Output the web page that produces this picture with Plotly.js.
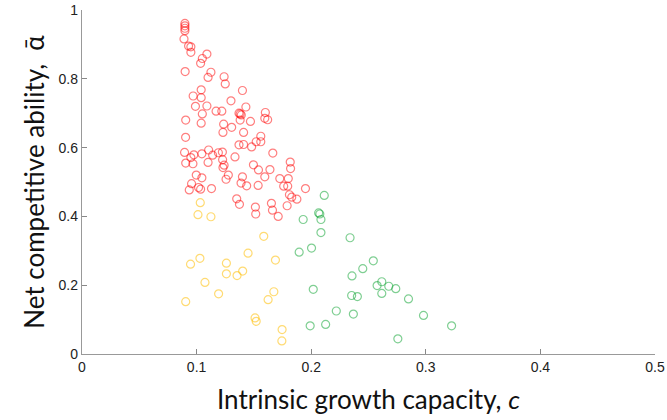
<!DOCTYPE html>
<html>
<head>
<meta charset="utf-8">
<script src="https://cdn.plot.ly/plotly-3.0.1.min.js"></script>
<style>html,body{margin:0;padding:0;background:#fff;}#chart{width:667px;height:420px;}</style>
</head>
<body>
<div id="chart"></div>
<script>
// Red group
const redX = [0.0898,0.0898,0.0898,0.0898,0.089,0.093,0.095,0.095,0.109,0.105,0.1035,0.090,0.1125,0.110,0.124,0.125,0.140,0.104,0.097,0.104,0.130,0.099,0.109,0.143,0.117,0.122,0.160,0.137,0.139,0.138,0.105,0.1595,0.162,0.0905,0.138,0.147,0.104,0.1236,0.1306,0.123,0.141,0.0904,0.156,0.152,0.156,0.137,0.141,0.148,0.1105,0.1225,0.119,0.0895,0.0976,0.1046,0.114,0.1665,0.1227,0.1335,0.095,0.0905,0.0968,0.110,0.124,0.123,0.1496,0.1817,0.154,0.182,0.164,0.0997,0.1046,0.1277,0.1257,0.140,0.1595,0.1388,0.1437,0.1537,0.1726,0.180,0.176,0.1795,0.195,0.0956,0.1017,0.1035,0.0936,0.113,0.135,0.181,0.183,0.1875,0.1374,0.1513,0.1516,0.1653,0.1662,0.1712,0.179];
const redY = [0.961,0.954,0.947,0.940,0.916,0.895,0.893,0.877,0.872,0.859,0.845,0.821,0.819,0.804,0.806,0.785,0.766,0.768,0.750,0.745,0.736,0.720,0.721,0.718,0.706,0.706,0.702,0.700,0.695,0.698,0.698,0.685,0.681,0.680,0.680,0.676,0.671,0.668,0.659,0.644,0.644,0.630,0.633,0.617,0.617,0.608,0.609,0.602,0.593,0.587,0.585,0.586,0.579,0.582,0.578,0.584,0.565,0.573,0.571,0.555,0.553,0.557,0.549,0.542,0.550,0.558,0.535,0.539,0.536,0.520,0.512,0.520,0.508,0.515,0.515,0.497,0.489,0.490,0.510,0.510,0.488,0.488,0.481,0.495,0.484,0.479,0.477,0.481,0.451,0.463,0.456,0.450,0.435,0.427,0.407,0.438,0.418,0.400,0.431];
// Yellow group
const yellowX = [0.1032,0.1012,0.1125,0.1586,0.1449,0.0947,0.1029,0.126,0.126,0.1688,0.1402,0.1353,0.1073,0.1192,0.1674,0.1624,0.0905,0.151,0.152,0.1746,0.1744];
const yellowY = [0.440,0.405,0.399,0.342,0.293,0.261,0.278,0.264,0.233,0.273,0.241,0.228,0.208,0.175,0.181,0.158,0.152,0.105,0.095,0.071,0.038];
// Green group
const greenX = [0.2114,0.2065,0.2075,0.193,0.2085,0.2085,0.1895,0.2003,0.2018,0.1991,0.2126,0.2219,0.2339,0.2542,0.245,0.2356,0.2616,0.2575,0.2677,0.2738,0.2616,0.2353,0.2403,0.2849,0.2368,0.298,0.3225,0.2756];
const greenY = [0.461,0.410,0.407,0.391,0.391,0.353,0.296,0.308,0.188,0.082,0.086,0.125,0.338,0.271,0.248,0.227,0.210,0.199,0.197,0.190,0.176,0.170,0.167,0.160,0.116,0.112,0.082,0.044];

const xTicks = [0, 0.1, 0.2, 0.3, 0.4, 0.5];
const yTicks = [0, 0.2, 0.4, 0.6, 0.8, 1];

function grp(x, y, color, name) {
  return {x: x, y: y, name: name, type: 'scatter', mode: 'markers',
    marker: {symbol: 'circle-open', size: 8, color: color, line: {color: color, width: 1.2}},
    hoverinfo: 'x+y'};
}

const data = [
  grp(redX, redY, 'rgba(255,0,0,0.5)', 'red'),
  grp(yellowX, yellowY, 'rgba(255,190,0,0.55)', 'yellow'),
  grp(greenX, greenY, 'rgba(0,160,40,0.5)', 'green')
];

const tickFont = {family: '"Liberation Sans", Arial, sans-serif', size: 14, color: '#222'};
const titleFont = {family: 'Lato, "Open Sans", sans-serif', size: 26, color: '#111'};
const nb = '\u00A0';

const layout = {
  width: 667, height: 420,
  margin: {l: 82, r: 12, t: 10, b: 66, pad: 0},
  paper_bgcolor: '#fff', plot_bgcolor: '#fff',
  showlegend: false,
  xaxis: {
    range: [0, 0.5], tickvals: xTicks, ticktext: xTicks.map(String),
    ticks: 'inside', ticklen: 5, tickcolor: '#888', tickwidth: 1,
    showline: true, linecolor: '#999', linewidth: 1.2, mirror: false,
    showgrid: false, zeroline: false, tickfont: tickFont,
    title: {text: nb.repeat(5) + 'Intrinsic growth capacity, <i>c</i>', font: titleFont, standoff: 16}
  },
  yaxis: {
    range: [0, 1], tickvals: yTicks, ticktext: yTicks.map(String),
    ticks: 'inside', ticklen: 5, tickcolor: '#888', tickwidth: 1,
    showline: true, linecolor: '#999', linewidth: 1.2, mirror: false,
    showgrid: false, zeroline: false, tickfont: tickFont,
    title: {text: 'Net competitive ability,  ᾱ' + nb.repeat(4), font: titleFont, standoff: 6}
  }
};

Plotly.newPlot('chart', data, layout, {displayModeBar: false, staticPlot: true});
</script>
</body>
</html>
